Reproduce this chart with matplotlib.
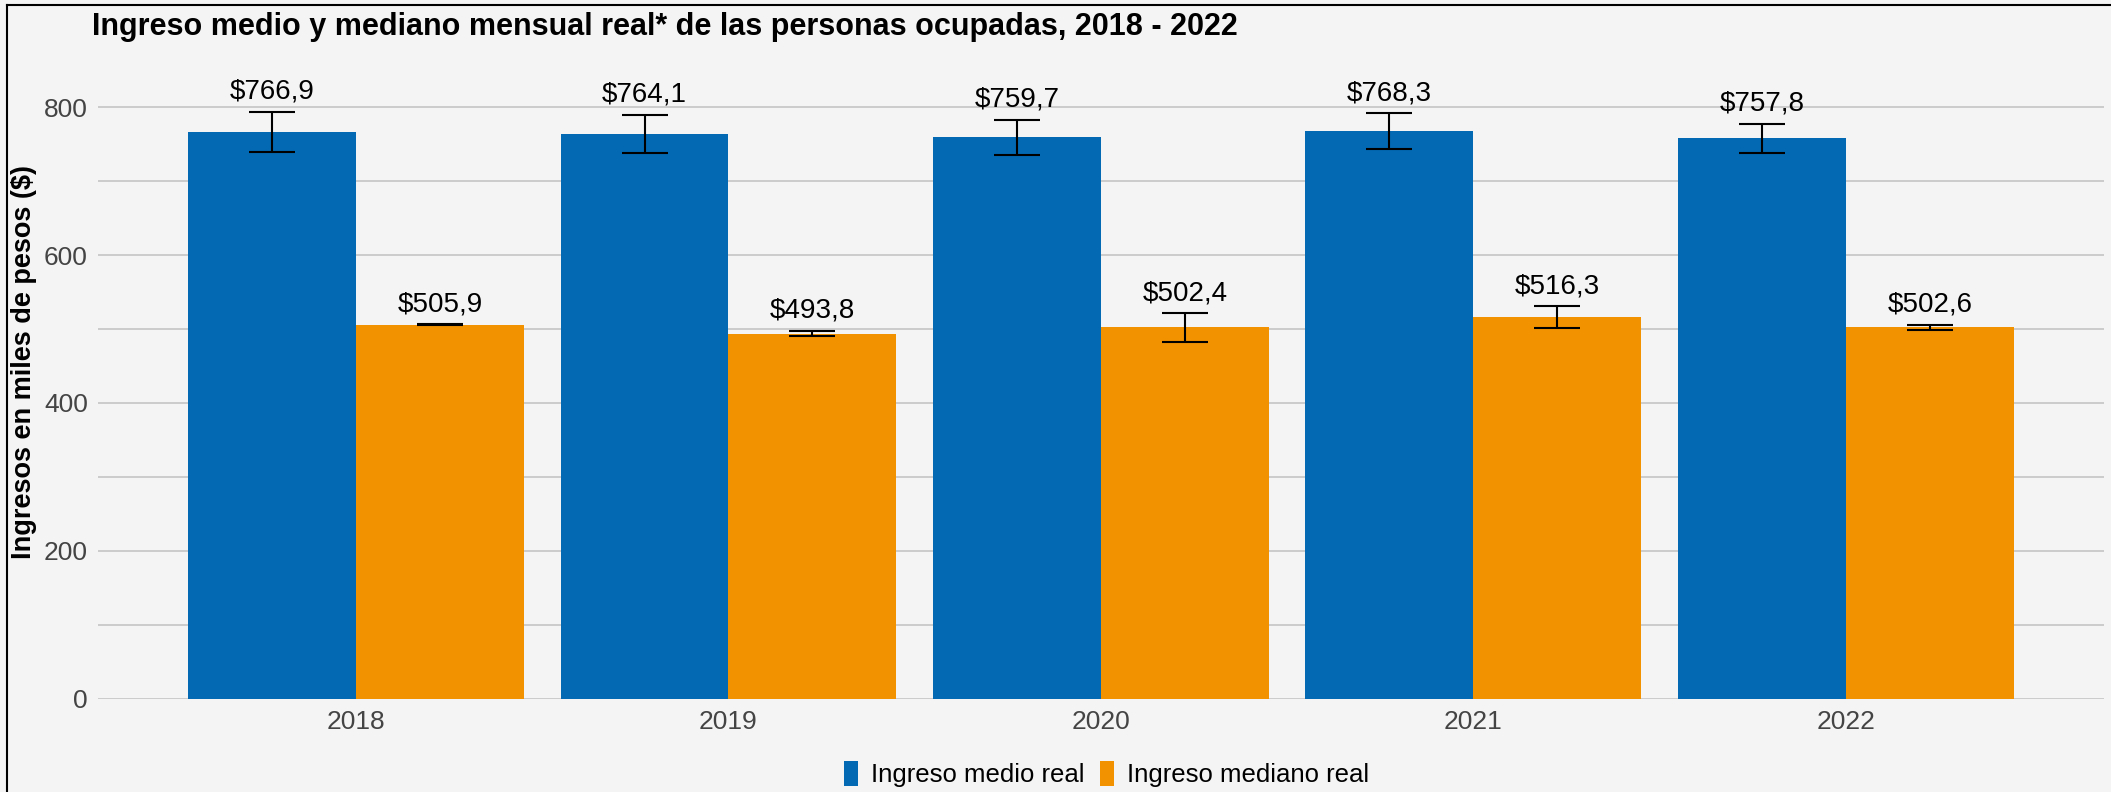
import numpy as np
import matplotlib.pyplot as plt
from matplotlib.lines import Line2D

plt.rcParams['font.family'] = ['Liberation Sans', 'DejaVu Sans']

years = ['2018', '2019', '2020', '2021', '2022']
medio = [766.9, 764.1, 759.7, 768.3, 757.8]
medio_lo = [740.2, 738.8, 735.7, 744.2, 738.4]
medio_hi = [793.9, 789.8, 783.0, 792.1, 777.7]
mediano = [505.9, 493.8, 502.4, 516.3, 502.6]
mediano_lo = [504.9, 490.4, 483.1, 502.0, 499.3]
mediano_hi = [506.9, 498.0, 521.5, 531.0, 506.1]

blue = '#0369b3'
orange = '#f39200'
bg = '#f4f4f4'


def fmt(v):
    return '$' + f'{v:.1f}'.replace('.', ',')


fig = plt.figure(figsize=(21.11, 7.92), dpi=100, facecolor=bg)
ax = fig.add_axes([0.0462, 0.1178, 0.9505, 0.7934])
ax.set_facecolor(bg)

x = np.arange(len(years))
w = 0.451
series = [
    (x - w / 2, medio, medio_lo, medio_hi, blue, 'Ingreso medio real'),
    (x + w / 2, mediano, mediano_lo, mediano_hi, orange, 'Ingreso mediano real'),
]
for pos, vals, lo, hi, col, lab in series:
    vals = np.array(vals)
    ax.bar(pos, vals, width=w, color=col, label=lab, zorder=2)
    err = [vals - np.array(lo), np.array(hi) - vals]
    ax.errorbar(pos, vals, yerr=err, fmt='none', ecolor='black',
                elinewidth=1.5, capsize=16.5, capthick=1.5, zorder=3)
    for p, v, h in zip(pos, vals, hi):
        ax.annotate(fmt(v), (p, h), xytext=(0, 5), textcoords='offset points',
                    ha='center', va='bottom', fontsize=20, color='black')

ax.set_xlim(-0.694, 4.693)
ax.set_ylim(0, 850)
ax.set_xticks(x)
ax.set_xticklabels(years)
ax.set_yticks([0, 200, 400, 600, 800])
ax.set_yticks([100, 300, 500, 700], minor=True)
ax.grid(axis='y', which='both', color='#c8c8c8', linewidth=1.3, zorder=0)
ax.tick_params(axis='both', which='both', length=0, labelsize=19, labelcolor='#444444')
ax.tick_params(axis='x', pad=8)
ax.tick_params(axis='y', pad=7)
for s in ax.spines.values():
    s.set_visible(False)

fig.text(0.0434, 0.966, 'Ingreso medio y mediano mensual real* de las personas ocupadas, 2018 - 2022',
         fontsize=22, fontweight='bold', ha='left', va='center')
fig.text(0.0114, 0.543, 'Ingresos en miles de pesos ($)', rotation=90,
         fontsize=19.5, fontweight='bold', ha='center', va='center')

handles, labels = ax.get_legend_handles_labels()
fig.legend(handles, labels, loc='center', bbox_to_anchor=(0.524, 0.0227), ncol=2,
           frameon=False, fontsize=18.5, handlelength=0.55, handleheight=1.1,
           handletextpad=0.5, columnspacing=0.6)

# frame only on top and left, as in the original
fig.lines.append(Line2D([7 / 2111, 1], [1 - 5 / 792, 1 - 5 / 792], transform=fig.transFigure,
                        color='black', linewidth=1.5))
fig.lines.append(Line2D([7 / 2111, 7 / 2111], [0, 1 - 5 / 792], transform=fig.transFigure,
                        color='black', linewidth=1.5))

fig.savefig('out.png', dpi=100, facecolor=bg)
